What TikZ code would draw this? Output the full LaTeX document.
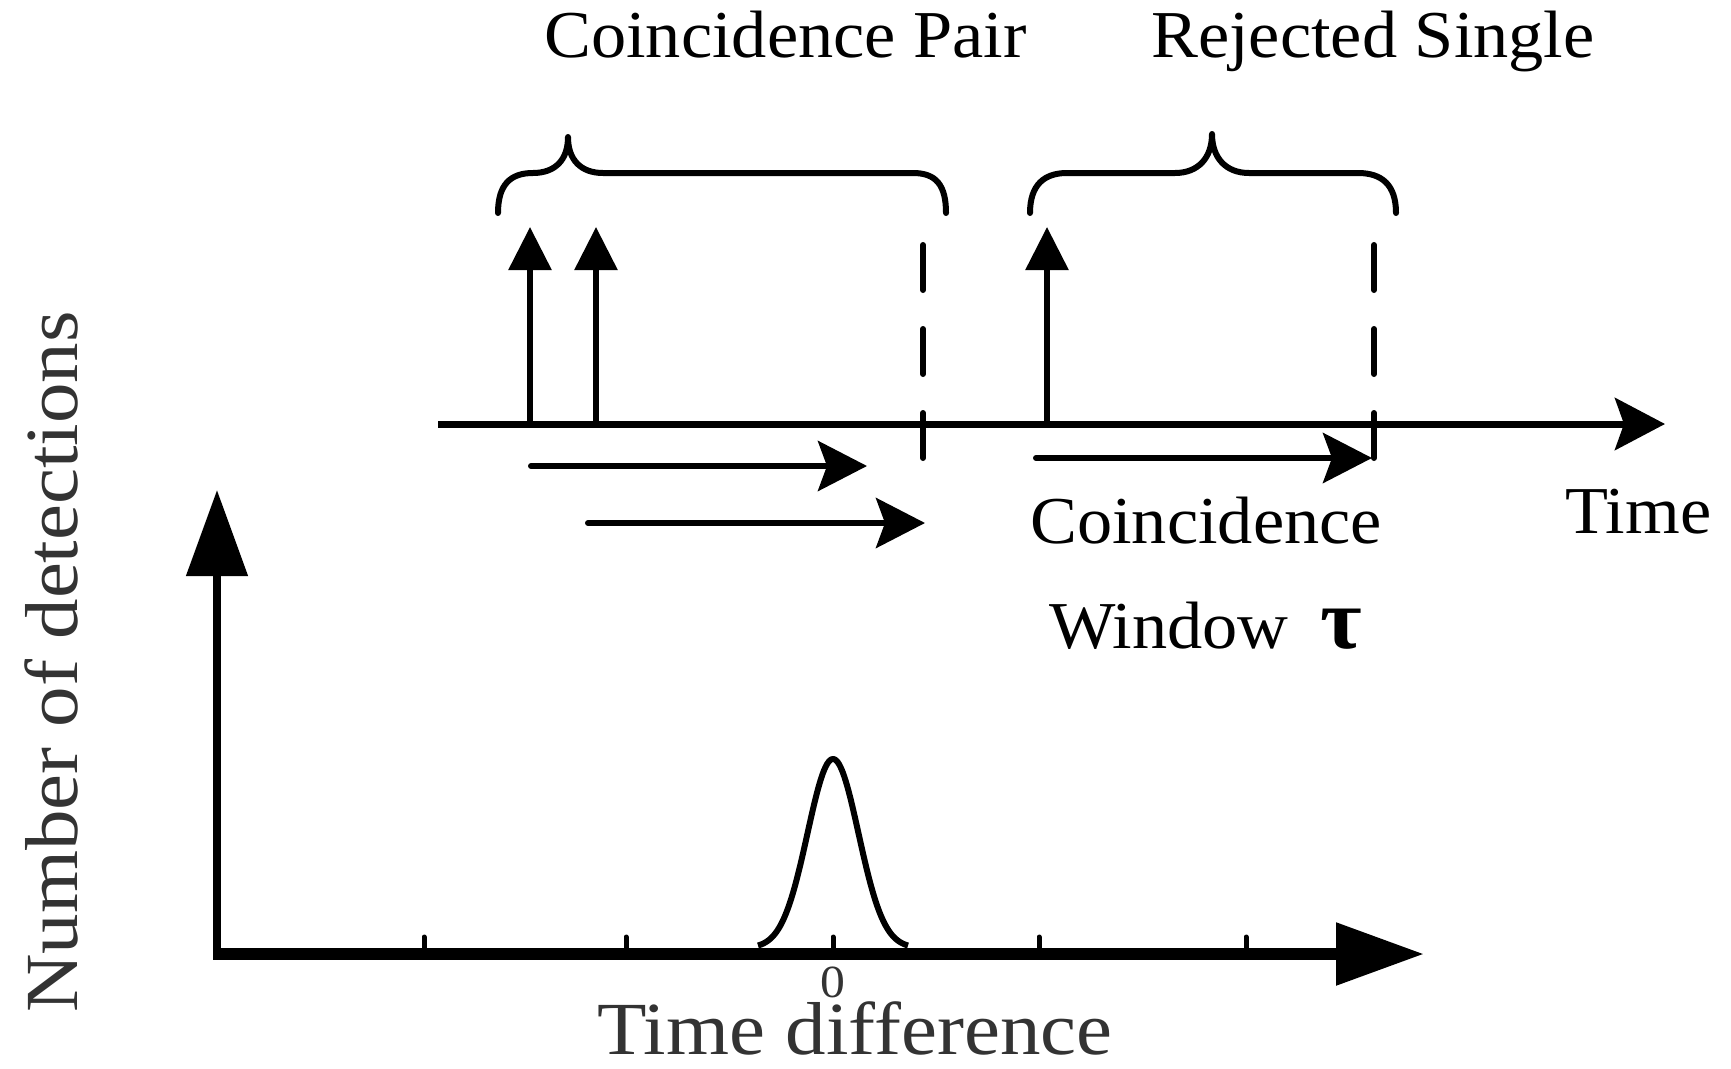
\documentclass[tikz,border=0pt]{standalone}
\usepackage{fontspec}
\setmainfont{Liberation Serif}
\newfontfamily\blkfont[FakeStretch=1.05]{Liberation Serif}
\newfontfamily\gryfont[FakeStretch=1.08]{Liberation Serif}
\usetikzlibrary{arrows.meta}
\definecolor{txtgray}{HTML}{333333}
\begin{document}
\begin{tikzpicture}[x=1pt,y=-1pt,
  lbl/.style={inner sep=0pt, font=\blkfont\fontsize{67}{80}\selectfont, text=black},
  glbl/.style={inner sep=0pt, font=\gryfont\fontsize{75}{90}\selectfont, text=txtgray},
  brace/.style={line width=6pt, line cap=round, line join=round},
  det/.style={line width=6pt, -{Triangle[length=43pt,width=42pt]}},
  win/.style={line width=6pt, line cap=round, -{Stealth[length=49pt,width=50pt,inset=9pt]}},
  dashv/.style={line width=6pt, line cap=round, dash pattern=on 45pt off 39pt},
  taxis/.style={line width=7pt, -{Stealth[length=50pt,width=52pt,inset=9pt]}},
  yaxis/.style={line width=8pt, -{Triangle[length=86pt,width=60pt]}},
  xaxis/.style={line width=12pt, -{Triangle[length=88pt,width=60pt]}},
  tick/.style={line width=5pt, line cap=round},
  ]
\fill[white] (0,0) rectangle (1731,1068);
\useasboundingbox (0,0) rectangle (1731,1068);

% time axis
\coordinate (t0) at (438,424);
\coordinate (t1) at (1665,424);
\draw[taxis] (t0) -- (t1);

% detection events
\coordinate (d1b) at (530,424); \coordinate (d1t) at (530,227);
\coordinate (d2b) at (596,424); \coordinate (d2t) at (596,227);
\coordinate (d3b) at (1047,424); \coordinate (d3t) at (1047,227);
\draw[det] (d1b) -- (d1t);
\draw[det] (d2b) -- (d2t);
\draw[det] (d3b) -- (d3t);

% window arrows
\coordinate (w1s) at (531,466); \coordinate (w1e) at (867,466);
\coordinate (w2s) at (588,523); \coordinate (w2e) at (925,523);
\coordinate (w3s) at (1036,458); \coordinate (w3e) at (1372,458);
\draw[win] (w1s) -- (w1e);
\draw[win] (w2s) -- (w2e);
\draw[win] (w3s) -- (w3e);

% dashed window limits
\coordinate (l1t) at (923,245); \coordinate (l1b) at (923,458);
\coordinate (l2t) at (1374,245); \coordinate (l2b) at (1374,458);
\draw[dashv] (l1t) -- (l1b);
\draw[dashv] (l2t) -- (l2b);

% braces
\draw[brace] (498,213) .. controls (498,185) and (510,173) .. (533,173)
  .. controls (555,173) and (568,160) .. (568,137)
  .. controls (568,160) and (581,173) .. (603,173) -- (913,173)
  .. controls (936,173) and (946,185) .. (946,213);
\draw[brace] (1030,213) .. controls (1030,185) and (1044,173) .. (1067,173) -- (1175,173)
  .. controls (1198,173) and (1212,158) .. (1212,134)
  .. controls (1212,158) and (1226,173) .. (1249,173) -- (1358,173)
  .. controls (1382,173) and (1396,185) .. (1396,213);

% labels top
\node[lbl, anchor=base west] (pair) at (544,57) {Coincidence Pair};
\node[lbl, anchor=base west] (rej) at (1151,57) {Rejected Single};
\node[lbl, anchor=base west] (time) at (1565,533) {Time};
\node[lbl, anchor=base west] (coin) at (1030,543) {Coincidence};
\node[lbl, anchor=base west] (wind) at (1049,648) {Window};
\node[inner sep=0pt, anchor=base west, font=\blkfont\bfseries\fontsize{86}{90}\selectfont] (tau) at (1320,648) {τ};

% histogram axes
\coordinate (o) at (213,954);
\coordinate (xe) at (1424,954);
\coordinate (yb) at (217,957);
\coordinate (ye) at (217,490);
\draw[yaxis] (yb) -- (ye);
\foreach \tx in {424,626,833,1039,1246} {
  \draw[tick] (\tx,937) -- (\tx,952);
}
\draw[xaxis] (o) -- (xe);

% peak
\draw[line width=6pt, line join=round] plot[domain=-75:75, samples=101, smooth]
  ({833+\x},{948-189*exp(-(\x*\x)/(2*25.5*25.5))});

\node[inner sep=0pt, anchor=base, text=txtgray, font=\gryfont\fontsize{46}{50}\selectfont] (zero) at (833,997) {0};
\node[glbl, anchor=base west] (tdiff) at (597,1054) {Time difference};
\node[glbl, anchor=base west, rotate=90] (ndet) at (77,1013) {Number of detections};
\end{tikzpicture}
\end{document}
